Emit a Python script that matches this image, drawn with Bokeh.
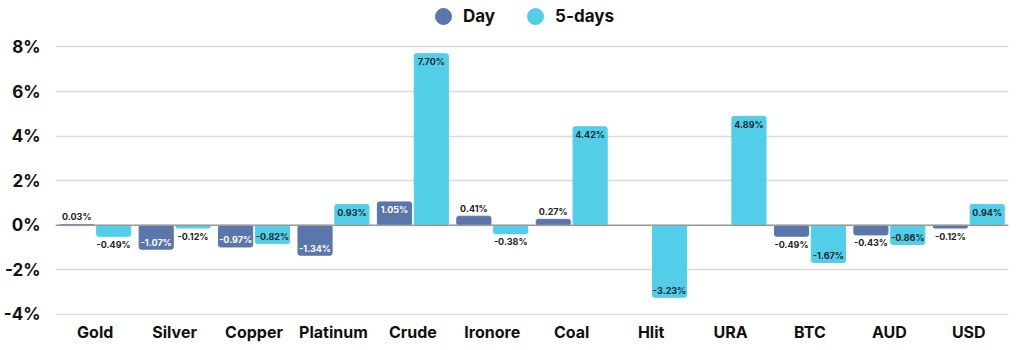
import math
from bokeh.plotting import figure
from bokeh.models import (ColumnDataSource, FactorRange, Range1d, Legend, LegendItem,
                          FixedTicker, PrintfTickFormatter, Span)
from bokeh.transform import dodge
from bokeh.core.properties import value
from bokeh.embed import file_html
from bokeh.resources import INLINE

categories = ["Gold", "Silver", "Copper", "Platinum", "Crude", "Ironore",
              "Coal", "Hlit", "URA", "BTC", "AUD", "USD"]
day = [0.03, -1.07, -0.97, -1.34, 1.05, 0.41, 0.27, None, None, -0.49, -0.43, -0.12]
five_days = [-0.49, -0.12, -0.82, 0.93, 7.70, -0.38, 4.42, -3.23, 4.89, -1.67, -0.86, 0.94]
y_ticks = [-4, -2, 0, 2, 4, 6, 8]

FONT = "Inter"
DAY_COLOR = "#5b76ab"
FIVE_COLOR = "#52cee8"

p = figure(width=1024, height=350, x_range=FactorRange(*categories),
           y_range=Range1d(-4.045, 10.086), output_backend="svg", toolbar_location=None,
           min_border_left=52, min_border_right=16, min_border_top=0, min_border_bottom=35)
p.outline_line_color = None
p.background_fill_color = "white"
p.border_fill_color = "white"


def make_source(vals, inside_color):
    d = dict(cat=[], val=[], label=[], yo=[], tc=[])
    for c, v in zip(categories, vals):
        if v is None:
            continue
        inside = abs(v) >= 0.8
        d["cat"].append(c)
        d["val"].append(v)
        d["label"].append(f"{v:.2f}%")
        if inside:
            d["yo"].append(8 if v > 0 else -7)
            d["tc"].append(inside_color)
        else:
            d["yo"].append(-8 if v >= 0 else 8)
            d["tc"].append("#222222")
    return ColumnDataSource(d)


OFF = 0.232
BW = 0.43
src_day = make_source(day, "#ffffff")
src_five = make_source(five_days, "#1a2a33")

r_day = p.vbar(x=dodge("cat", -OFF, range=p.x_range), top="val", bottom=0, width=BW,
               source=src_day, fill_color=DAY_COLOR, line_color=DAY_COLOR, border_radius=2)
r_five = p.vbar(x=dodge("cat", OFF, range=p.x_range), top="val", bottom=0, width=BW,
                source=src_five, fill_color=FIVE_COLOR, line_color=FIVE_COLOR, border_radius=2)

for src, off in ((src_day, -OFF), (src_five, OFF)):
    p.text(x=dodge("cat", off, range=p.x_range), y="val", text="label", y_offset="yo",
           text_color="tc", source=src, text_align="center", text_baseline="middle",
           text_font=value(FONT), text_font_style="bold", text_font_size="9px")

p.add_layout(Span(location=0, dimension="width", line_color="#9a9a9a", line_width=1.5))

p.yaxis.ticker = FixedTicker(ticks=y_ticks)
p.yaxis.formatter = PrintfTickFormatter(format="%d%%")
p.yaxis.axis_line_color = None
p.yaxis.major_tick_line_color = None
p.yaxis.minor_tick_line_color = None
p.yaxis.major_label_text_font = FONT
p.yaxis.major_label_text_font_style = "bold"
p.yaxis.major_label_text_font_size = "17px"
p.yaxis.major_label_text_color = "#111111"
p.yaxis.major_label_standoff = 9

p.xaxis.axis_line_color = None
p.xaxis.major_tick_line_color = None
p.xaxis.major_label_text_font = FONT
p.xaxis.major_label_text_font_style = "bold"
p.xaxis.major_label_text_font_size = "16px"
p.xaxis.major_label_text_color = "#111111"
p.xaxis.major_label_standoff = 0

p.xgrid.grid_line_color = None
p.ygrid.grid_line_color = "#dadada"
p.ygrid.grid_line_width = 1.5

# legend dummies (no visible data)
l_day = p.scatter(x=[categories[0]], y=[float("nan")], marker="circle", size=16,
                  fill_color=DAY_COLOR, line_color=DAY_COLOR)
l_five = p.scatter(x=[categories[0]], y=[float("nan")], marker="circle", size=16,
                   fill_color=FIVE_COLOR, line_color=FIVE_COLOR)
legend = Legend(items=[LegendItem(label="Day", renderers=[l_day]),
                       LegendItem(label="5-days", renderers=[l_five])],
                orientation="horizontal", location=(368, 279),
                glyph_width=40, glyph_height=40, label_standoff=0, spacing=20,
                padding=0, margin=0, border_line_color=None, background_fill_alpha=0,
                label_text_font=FONT, label_text_font_style="bold",
                label_text_font_size="17px", label_text_color="#111111")
p.add_layout(legend, "center")

open("out.html", "w").write(file_html(p, INLINE))
